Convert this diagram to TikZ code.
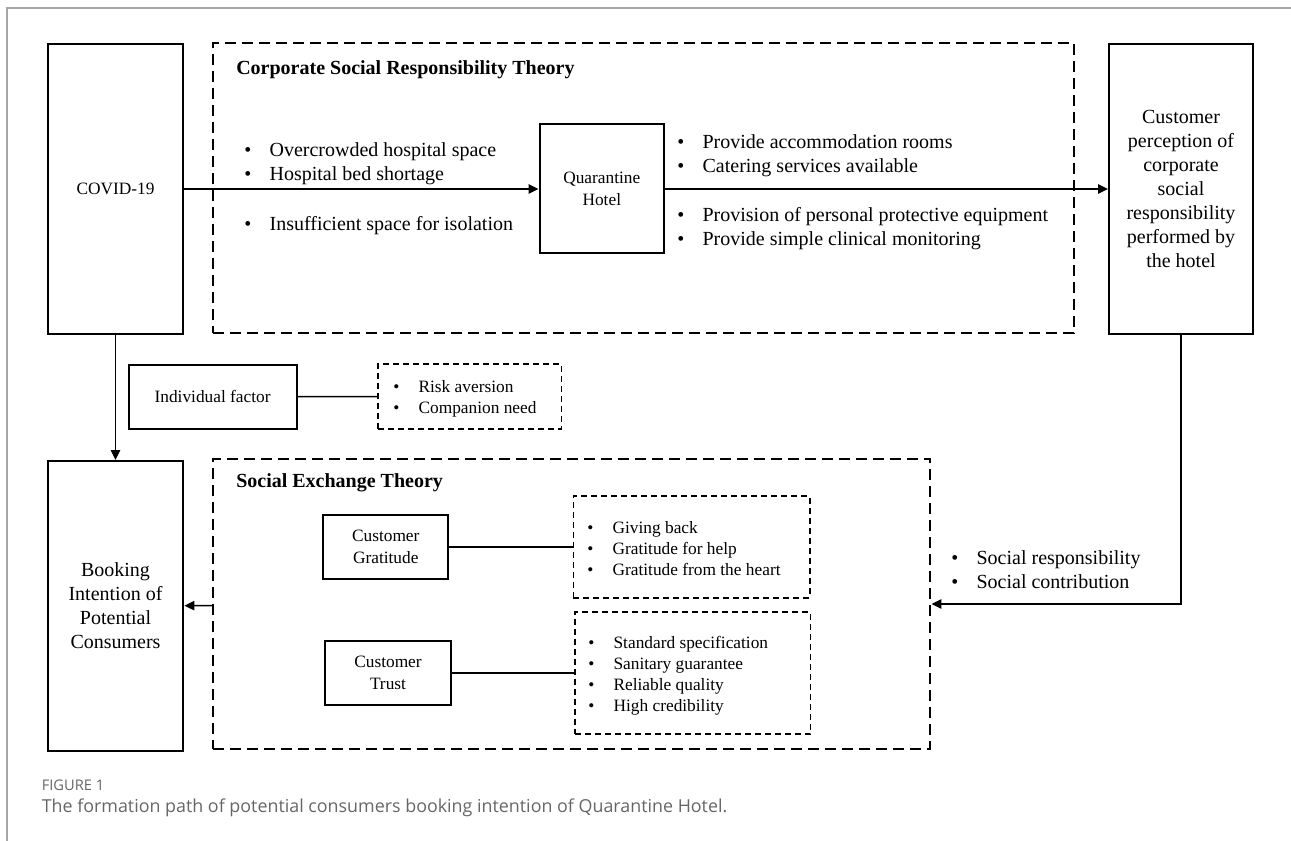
\documentclass[tikz,border=0pt]{standalone}
\usepackage{fontspec}
\setmainfont{Liberation Serif}
\newfontfamily\capfont{Open Sans}
\usepackage{tikz}
\usetikzlibrary{arrows.meta,positioning}

\newcommand{\itm}[1]{\makebox[19pt][l]{\textbullet}#1}

\begin{document}
\begin{tikzpicture}[x=0.75pt,y=-0.75pt,
	box/.style={rectangle,draw,line width=1.5pt,align=center,inner sep=2pt,font=\fontsize{13}{16}\selectfont},
	bigbox/.style={box,font=\fontsize{15}{18}\selectfont},
	theory/.style={rectangle,draw,line width=1.5pt,dash pattern=on 8.25pt off 4.5pt},
	group/.style={rectangle,draw,line width=1.3pt,dash pattern=on 4.5pt off 3pt},
	lst/.style={align=left,inner sep=0pt,anchor=west,font=\fontsize{15}{18}\selectfont},
	slst/.style={lst,font=\fontsize{13}{15.75}\selectfont},
	arr/.style={line width=1.1pt,-{Triangle[length=7.5pt,width=7pt]}},
	link/.style={line width=1.1pt}]
	\useasboundingbox (0,0) rectangle (1291,841);
	\draw[black!35,line width=1pt] (1291,8) -- (7,8) -- (7,841);

	% upper row
	\node[theory,minimum width=645.75pt,minimum height=217.5pt] (csr) at (643.5,188) {};
	\node[anchor=west,inner sep=0pt,font=\fontsize{15}{18}\selectfont\bfseries] (csrtitle) at (236,70) {Corporate Social Responsibility Theory};
	\node[box,minimum width=101.8pt,minimum height=217.5pt] (covid) at (115.5,189) {COVID-19};
	\node[box,minimum width=93.4pt,minimum height=96.75pt] (hotel) at (601.8,189) {Quarantine\\Hotel};
	\node[bigbox,minimum width=108pt,minimum height=218pt] (percep) at (1181,189) {Customer\\perception of\\corporate\\social\\responsibility\\performed by\\the hotel};
	\node[lst] (causeA) at (244,164) {\itm{Overcrowded hospital space}\\\itm{Hospital bed shortage}};
	\node[lst] (causeB) at (244,226) {\itm{Insufficient space for isolation}};
	\node[lst] (measA) at (677,155.5) {\itm{Provide accommodation rooms}\\\itm{Catering services available}};
	\node[lst] (measB) at (677,228.5) {\itm{Provision of personal protective equipment}\\\itm{Provide simple clinical monitoring}};

	% middle row
	\node[box,minimum width=126pt,minimum height=48pt] (indiv) at (212.6,396.7) {Individual factor};
	\node[group,minimum width=137.5pt,minimum height=48.5pt] (risk) at (469.7,396.5) {};
	\node[slst] (riskl) at (393,398.5) {\itm{Risk aversion}\\\itm{Companion need}};

	% lower row
	\node[bigbox,below=93.75pt of covid,minimum width=101.8pt,minimum height=217.5pt] (booking) {Booking\\Intention of\\Potential\\Consumers};
	\node[theory,minimum width=538pt,minimum height=217.5pt] (set) at (571.75,604) {};
	\node[anchor=west,inner sep=0pt,font=\fontsize{15}{18}\selectfont\bfseries] (settitle) at (236,483) {Social Exchange Theory};
	\node[box,minimum width=94pt,minimum height=48pt] (grat) at (385.75,547) {Customer\\Gratitude};
	\node[box,minimum width=94pt,minimum height=48pt] (trust) at (388,673) {Customer\\Trust};
	\node[group,minimum width=177.2pt,minimum height=76pt] (gratbox) at (691.5,547) {};
	\node[group,minimum width=176.6pt,minimum height=91.7pt] (trustbox) at (692.7,673) {};
	\node[slst] (gratl) at (587,549) {\itm{Giving back}\\\itm{Gratitude for help}\\\itm{Gratitude from the heart}};
	\node[slst] (trustl) at (588,676) {\itm{Standard specification}\\\itm{Sanitary guarantee}\\\itm{Reliable quality}\\\itm{High credibility}};
	\node[lst] (socl) at (951,569.7) {\itm{Social responsibility}\\\itm{Social contribution}};

	% caption
	\node[anchor=west,inner sep=0pt,text=black!60,font=\capfont\fontsize{11}{13}\selectfont] (fig) at (41.5,785) {FIGURE 1};
	\node[anchor=west,inner sep=0pt,text=black!60,font=\capfont\fontsize{13.4}{15}\selectfont] (cap) at (41.5,808) {The formation path of potential consumers booking intention of Quarantine Hotel.};

	% connectors
	\draw[arr] (covid) -- (hotel);
	\draw[arr] (hotel) -- (percep);
	\draw[arr] (covid) -- (booking);
	\draw[link] (indiv) -- (risk);
	\draw[link] (grat) -- (gratbox);
	\draw[link] (trust) -- (trustbox);
	\draw[arr] (set) -- (booking);
	\draw[arr] (percep.south) |- (set.east);
\end{tikzpicture}
\end{document}
